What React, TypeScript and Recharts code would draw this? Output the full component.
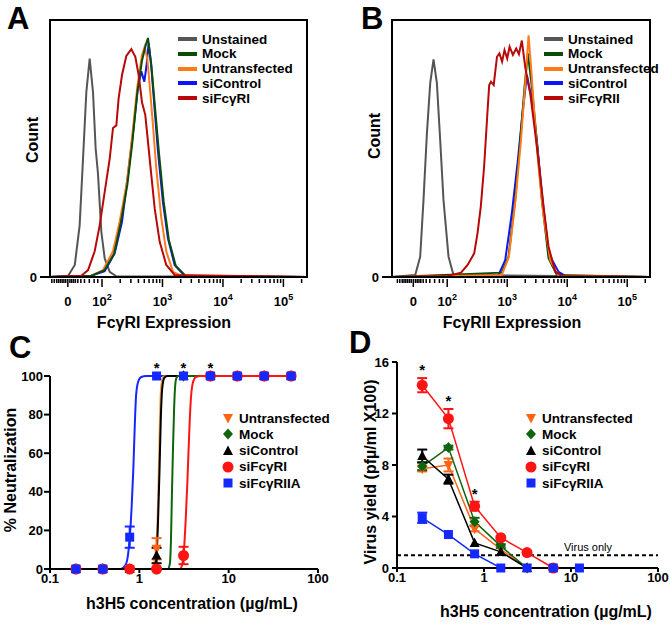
import React from "react";
import {
  LineChart,
  ComposedChart,
  Line,
  Scatter,
  XAxis,
  YAxis,
  ErrorBar,
  ReferenceArea,
  ReferenceLine,
  Label,
} from "recharts";

const FONT = "'Liberation Sans', Arial, Helvetica, sans-serif";

// ---------- A / B : flow cytometry histograms ----------
// x is in display decades (2 = 10^2, 3 = 10^3 ...), y is count as % of frame height
const histLabels = [
  { pos: 1.435, base: "0", exp: "" },
  { pos: 2, base: "10", exp: "2" },
  { pos: 3, base: "10", exp: "3" },
  { pos: 4, base: "10", exp: "4" },
  { pos: 5, base: "10", exp: "5" },
];
const histLowTicks = [1.17, 1.21, 1.25, 1.28, 1.31, 1.34, 1.37, 1.4, 1.47, 1.5, 1.53, 1.56, 1.6, 1.65, 1.71, 1.79, 1.87, 1.93];
const histMinorMult = [2, 3, 4, 5, 6, 7, 8, 9];
const histTicks = [
  ...histLowTicks,
  ...histLabels.map((l) => l.pos),
  ...[2, 3, 4].flatMap((d) => histMinorMult.map((k) => d + Math.log10(k))),
  5 + Math.log10(2),
];

const unstainedA = [[1.14, 0], [1.44, 0.5], [1.55, 4.7], [1.63, 20], [1.686, 46], [1.741, 72], [1.796, 85], [1.851, 72], [1.895, 50], [1.934, 40], [1.989, 17.6], [2.044, 7.3], [2.127, 2], [2.237, 0.3], [5.39, 0]];
const siControlA = [[1.14, 0], [1.824, 0.5], [2.044, 2.3], [2.209, 9.2], [2.331, 21.5], [2.43, 40], [2.512, 56], [2.595, 74], [2.65, 80], [2.7, 76], [2.735, 82], [2.771, 91], [2.815, 82], [2.871, 65], [2.926, 48.8], [3.008, 29], [3.091, 15], [3.201, 4.7], [3.366, 0.5], [5.39, 0]];
const untransA = [[1.14, 0], [1.824, 0.5], [2.017, 2.7], [2.182, 10], [2.292, 21.5], [2.413, 37], [2.496, 54], [2.584, 74], [2.661, 86.4], [2.705, 89.6], [2.749, 85], [2.788, 74.7], [2.843, 59], [2.898, 42.3], [2.981, 22.8], [3.063, 9.9], [3.174, 2], [3.311, 0.5], [5.39, 0]];
const mockA = [[1.14, 0], [1.824, 0.5], [2.044, 2.7], [2.2, 9], [2.31, 21], [2.42, 36], [2.5, 52], [2.585, 72], [2.66, 84], [2.72, 90], [2.76, 93], [2.815, 82.5], [2.88, 65], [2.94, 48.8], [3.02, 29.3], [3.105, 14.5], [3.22, 4.3], [3.38, 0.5], [5.39, 0]];
const siFcgRIA = [[1.14, 0], [1.658, 0.5], [1.769, 2.7], [1.879, 10], [1.961, 20], [2.044, 33], [2.127, 46], [2.182, 58], [2.237, 59], [2.275, 69.5], [2.331, 78.6], [2.402, 86], [2.485, 88.7], [2.551, 85.7], [2.606, 78.6], [2.661, 68], [2.716, 63], [2.76, 52.7], [2.815, 39.7], [2.871, 26.7], [2.954, 13.7], [3.063, 4.7], [3.201, 0.8], [5.39, 0]];

const unstainedB = [[1.08, 0], [1.467, 0.8], [1.55, 7.9], [1.605, 30], [1.662, 56], [1.717, 75.4], [1.772, 84.7], [1.828, 75.4], [1.883, 53.3], [1.938, 30], [2.022, 7.9], [2.105, 0.8], [5.38, 0]];
const siControlB = [[1.08, 0], [2.856, 0.8], [2.967, 6.6], [3.078, 24.9], [3.178, 45.5], [3.256, 63.8], [3.328, 78.6], [3.411, 69], [3.494, 53], [3.578, 32.5], [3.689, 9.2], [3.856, 2], [3.967, 0.4], [5.38, 0]];
const untransB = [[1.08, 0], [2.911, 0.8], [3.028, 7.9], [3.139, 30], [3.228, 53], [3.3, 75], [3.356, 94], [3.4, 81], [3.456, 62], [3.522, 43], [3.606, 23.6], [3.717, 6.6], [3.856, 0.4], [5.38, 0]];
const mockB = [[1.08, 0], [2.911, 1.7], [3.022, 7.9], [3.133, 30], [3.217, 53], [3.289, 74], [3.344, 87], [3.411, 74], [3.494, 53], [3.578, 30], [3.689, 7.3], [3.828, 0.8], [5.38, 0]];
const siFcgRIIB = [[1.08, 0], [2.01, 0.4], [2.23, 1.7], [2.34, 4.7], [2.45, 9.2], [2.505, 17], [2.56, 27.4], [2.615, 42.9], [2.67, 63.7], [2.7, 74.7], [2.73, 76], [2.775, 74.7], [2.83, 85.7], [2.87, 87], [2.915, 83.8], [2.955, 88.3], [3.0, 85], [3.04, 89.6], [3.095, 86.4], [3.15, 88.9], [3.195, 86.7], [3.244, 92], [3.3, 81.8], [3.344, 76], [3.383, 71.5], [3.467, 56], [3.533, 43], [3.606, 27.4], [3.689, 11.8], [3.8, 2.1], [3.911, 0.4], [5.38, 0]];

const GRAY = "#555555";
const DKGREEN = "#0a4d0a";
const ORANGE = "#ff7a1a";
const BLUE = "#0a14ff";
const DKRED = "#b80808";

const histSeriesA = [
  { name: "Unstained", color: GRAY, pts: unstainedA },
  { name: "siControl", color: BLUE, pts: siControlA },
  { name: "Untransfected", color: ORANGE, pts: untransA },
  { name: "Mock", color: DKGREEN, pts: mockA },
  { name: "siFcγRI", color: DKRED, pts: siFcgRIA },
];
const histSeriesB = [
  { name: "Unstained", color: GRAY, pts: unstainedB },
  { name: "siControl", color: BLUE, pts: siControlB },
  { name: "Mock", color: DKGREEN, pts: mockB },
  { name: "Untransfected", color: ORANGE, pts: untransB },
  { name: "siFcγRII", color: DKRED, pts: siFcgRIIB },
];
const histLegendOrder = ["Unstained", "Mock", "Untransfected", "siControl"];

// ---------- C : neutralization ----------
const concC = [0.195, 0.39, 0.78, 1.56, 3.125, 6.25, 12.5, 25, 50];
const untransC = [0, 0, 0, 10.5, 100, 100, 100, 100, 100];
const untransCErr = [0, 0, 0, 5.5, 0, 0, 0, 0, 0];
const mockC = [0, 0, 0, 0, 100, 100, 100, 100, 100];
const siControlC = [0, 0, 0, 7, 100, 100, 100, 100, 100];
const siControlCErr = [0, 0, 0, 4, 0, 0, 0, 0, 0];
const siFcgRIC = [0, 0, 0, 0, 7, 100, 100, 100, 100];
const siFcgRICErr = [0, 0, 0, 0, 4.5, 0, 0, 0, 0];
const siFcgRIIAC = [0, 0, 16.5, 100, 100, 100, 100, 100, 100];
const siFcgRIIACErr = [0, 0, 5.5, 0, 0, 0, 0, 0, 0];
const starsC = [1.56, 3.125, 6.25];

// fitted curves as (x, %) points
const curveBlueC = [[0.195, 0], [0.62, 0], [0.7, 2], [0.75, 8], [0.78, 16], [0.82, 32], [0.857, 52], [0.89, 75], [0.92, 90], [0.97, 97], [1.05, 99.5], [1.2, 100], [50, 100]];
const curveOrangeC = [[0.195, 0], [1.35, 0], [1.45, 2], [1.5, 6], [1.56, 13], [1.61, 30], [1.66, 55], [1.71, 82], [1.76, 95], [1.85, 99.5], [2.0, 100], [50, 100]];
const curveBlackC = [[0.195, 0], [1.42, 0], [1.5, 2], [1.56, 7], [1.62, 25], [1.68, 50], [1.74, 78], [1.8, 93], [1.9, 99], [2.05, 100], [50, 100]];
const curveGreenC = [[0.195, 0], [2.1, 0], [2.2, 3], [2.26, 15], [2.31, 36], [2.38, 62], [2.45, 83], [2.52, 95], [2.6, 99], [2.75, 100], [50, 100]];
const curveRedC = [[0.195, 0], [2.85, 0], [3.0, 2], [3.125, 7], [3.3, 25], [3.45, 45], [3.6, 68], [3.75, 86], [3.95, 96], [4.3, 99.5], [4.8, 100], [50, 100]];

// ---------- D : virus yield ----------
const concD = [0.195, 0.39, 0.78, 1.56, 3.125, 6.25, 12.5];
const untransD = [7.7, 8.0, 3.05, 1.45, 0];
const untransDErr = [0.2, 0.5, 0.2, 0, 0];
const mockD = [7.9, 9.35, 3.6, 1.7, 0];
const mockDErr = [0.3, 0.15, 0.3, 0.15, 0];
const siControlD = [8.7, 6.9, 1.95, 1.25, 0];
const siControlDErr = [0.5, 0.35, 0, 0, 0];
const siFcgRID = [14.2, 11.6, 4.8, 2.35, 1.2, 0];
const siFcgRIDErr = [0.55, 0.75, 0.35, 0, 0, 0];
const siFcgRIIAD = [3.9, 2.6, 1.1, 0, 0, 0, 0];
const siFcgRIIADErr = [0.4, 0, 0, 0, 0, 0, 0];
const starsD = [0.195, 0.39, 0.78];
const virusOnly = 1;

const ORANGE_C = "#ff6414";
const ORANGE_LINE_C = "#f0a048";
const GREEN_C = "#0e650e";
const RED_C = "#ff1414";
const BLUE_C = "#1428ff";

const logTicks = [0.1, 1, 10, 100];

const toPts = (arr: number[][]) => arr.map(([x, y]) => ({ x, y }));
const toSeries = (xs: number[], ys: number[], errs?: number[]) =>
  ys.map((y, i) => ({ x: xs[i], y, err: errs && errs[i] ? errs[i] : undefined }));

function Marker({ kind, cx, cy, color }: any) {
  if (cx == null || cy == null) return null;
  if (kind === "circle") return <circle cx={cx} cy={cy} r={5.5} fill={color} />;
  if (kind === "square") return <rect x={cx - 4.5} y={cy - 4.5} width={9} height={9} fill={color} />;
  if (kind === "diamond")
    return <polygon points={`${cx},${cy - 5.5} ${cx + 5},${cy} ${cx},${cy + 5.5} ${cx - 5},${cy}`} fill={color} />;
  if (kind === "up")
    return <polygon points={`${cx},${cy - 5.5} ${cx + 5},${cy + 4} ${cx - 5},${cy + 4}`} fill={color} />;
  return <polygon points={`${cx},${cy + 5.5} ${cx + 5},${cy - 4} ${cx - 5},${cy - 4}`} fill={color} />;
}

function HistTick(props: any) {
  const { x, y, payload } = props;
  const v = payload.value;
  const lab = histLabels.find((l) => Math.abs(l.pos - v) < 1e-6);
  return (
    <g>
      <line x1={x} x2={x} y1={y} y2={y + (lab ? 8 : 4)} stroke="#000" strokeWidth={1.5} />
      {lab && (
        <text x={x} y={y + 27} textAnchor="middle" fontSize={13} fontWeight={700} fontFamily={FONT} fill="#000">
          {lab.base}
          {lab.exp && (
            <tspan dy={-6} fontSize={9}>
              {lab.exp}
            </tspan>
          )}
        </text>
      )}
    </g>
  );
}

function HistPanel({ left, marginLeft, marginRight, domain, series }: any) {
  return (
    <div style={{ position: "absolute", left, top: 0 }}>
      <LineChart width={335} height={310} margin={{ top: 20, right: marginRight, bottom: 3, left: marginLeft }}>
        <XAxis
          type="number"
          dataKey="x"
          domain={domain}
          ticks={histTicks}
          interval={0}
          tick={<HistTick />}
          tickSize={0}
          tickLine={false}
          axisLine={{ stroke: "#000", strokeWidth: 2 }}
          height={30}
        />
        <YAxis
          type="number"
          domain={[0, 100]}
          ticks={[0]}
          width={35}
          tickSize={10}
          tickMargin={3}
          tick={{ fontSize: 13, fontWeight: 700, fill: "#000", fontFamily: FONT }}
          tickLine={{ stroke: "#000", strokeWidth: 2 }}
          axisLine={{ stroke: "#000", strokeWidth: 2 }}
        />
        <ReferenceArea x1={domain[0]} x2={domain[1]} y1={0} y2={100} fill="none" stroke="#000" strokeWidth={2} />
        {series.map((s: any) => (
          <Line
            key={s.name}
            data={toPts(s.pts)}
            dataKey="y"
            type="linear"
            stroke={s.color}
            strokeWidth={2}
            dot={false}
            isAnimationActive={false}
          />
        ))}
      </LineChart>
    </div>
  );
}

function LineLegend({ left, top, items }: any) {
  return (
    <div style={{ position: "absolute", left, top }}>
      {items.map((it: any, i: number) => (
        <div
          key={it.name}
          style={{ position: "absolute", left: 0, top: i * 14.75 - 8, height: 16, display: "flex", alignItems: "center", whiteSpace: "nowrap" }}
        >
          <div style={{ width: 19, height: 4, background: it.color, marginRight: 5 }} />
          <span style={{ fontSize: 13.5, fontWeight: 700, fontFamily: FONT, color: "#000" }}>{it.name}</span>
        </div>
      ))}
    </div>
  );
}

function MarkerLegend({ left, top, items }: any) {
  return (
    <div style={{ position: "absolute", left, top }}>
      {items.map((it: any, i: number) => (
        <div
          key={it.name}
          style={{ position: "absolute", left: 0, top: i * 16.3 - 8, height: 16, display: "flex", alignItems: "center", whiteSpace: "nowrap" }}
        >
          <svg width={14} height={14} style={{ marginRight: 4 }}>
            <Marker kind={it.kind} cx={7} cy={7} color={it.color} />
          </svg>
          <span style={{ fontSize: 13.5, fontWeight: 700, fontFamily: FONT, color: "#000" }}>{it.name}</span>
        </div>
      ))}
    </div>
  );
}

const markerLegendItems = [
  { name: "Untransfected", kind: "down", color: ORANGE_C },
  { name: "Mock", kind: "diamond", color: GREEN_C },
  { name: "siControl", kind: "up", color: "#000" },
  { name: "siFcγRI", kind: "circle", color: RED_C },
  { name: "siFcγRIIA", kind: "square", color: BLUE_C },
];

const tickStyle = { fontSize: 13, fontWeight: 700, fill: "#000", fontFamily: FONT };
const axisStroke = { stroke: "#000", strokeWidth: 2 };

function StarShape(props: any) {
  return (
    <text x={props.cx} y={props.cy - 3} textAnchor="middle" fontSize={15} fontWeight={700} fontFamily={FONT} fill="#000">
      *
    </text>
  );
}

function PanelC() {
  const scatterSeries = [
    { name: "Untransfected", kind: "down", color: ORANGE_C, ys: untransC, errs: untransCErr },
    { name: "Mock", kind: "diamond", color: GREEN_C, ys: mockC, errs: undefined },
    { name: "siControl", kind: "up", color: "#000", ys: siControlC, errs: siControlCErr },
    { name: "siFcγRI", kind: "circle", color: RED_C, ys: siFcgRIC, errs: siFcgRICErr },
    { name: "siFcγRIIA", kind: "square", color: BLUE_C, ys: siFcgRIIAC, errs: siFcgRIIACErr },
  ];
  const curves = [
    { name: "fitBlue", color: BLUE_C, pts: curveBlueC },
    { name: "fitOrange", color: ORANGE_LINE_C, pts: curveOrangeC },
    { name: "fitBlack", color: "#000", pts: curveBlackC },
    { name: "fitGreen", color: GREEN_C, pts: curveGreenC },
    { name: "fitRed", color: RED_C, pts: curveRedC },
  ];
  return (
    <div style={{ position: "absolute", left: 0, top: 300 }}>
      <ComposedChart width={335} height={325} margin={{ top: 76, right: 17, bottom: 6, left: 0 }}>
        <XAxis
          type="number"
          dataKey="x"
          scale="log"
          domain={[0.1, 100]}
          ticks={logTicks}
          interval={0}
          tickFormatter={(v: number) => String(v)}
          tick={tickStyle}
          tickSize={4}
          tickMargin={1}
          tickLine={axisStroke}
          axisLine={axisStroke}
          height={50}
        />
        <YAxis
          type="number"
          domain={[0, 100]}
          ticks={[0, 20, 40, 60, 80, 100]}
          width={50}
          tick={tickStyle}
          tickSize={6}
          tickMargin={1}
          tickLine={axisStroke}
          axisLine={axisStroke}
        />
        {curves.map((c) => (
          <Line
            key={c.name}
            data={toPts(c.pts)}
            dataKey="y"
            type="monotone"
            stroke={c.color}
            strokeWidth={2}
            dot={false}
            isAnimationActive={false}
          />
        ))}
        {scatterSeries.map((s) => (
          <Scatter
            key={s.name}
            data={toSeries(concC, s.ys, s.errs)}
            dataKey="y"
            isAnimationActive={false}
            shape={(p: any) => <Marker kind={s.kind} cx={p.cx} cy={p.cy} color={s.color} />}
          >
            <ErrorBar dataKey="err" direction="y" width={5} stroke={s.color} strokeWidth={2} isAnimationActive={false} />
          </Scatter>
        ))}
        <Scatter
          data={starsC.map((x) => ({ x, y: siFcgRIIAC[concC.indexOf(x)] }))}
          dataKey="y"
          isAnimationActive={false}
          shape={<StarShape />}
        />
      </ComposedChart>
    </div>
  );
}

function PanelD() {
  const series = [
    { name: "Untransfected", kind: "down", color: ORANGE_C, ys: untransD, errs: untransDErr },
    { name: "Mock", kind: "diamond", color: GREEN_C, ys: mockD, errs: mockDErr },
    { name: "siControl", kind: "up", color: "#000", ys: siControlD, errs: siControlDErr },
    { name: "siFcγRI", kind: "circle", color: RED_C, ys: siFcgRID, errs: siFcgRIDErr },
    { name: "siFcγRIIA", kind: "square", color: BLUE_C, ys: siFcgRIIAD, errs: siFcgRIIADErr },
  ];
  return (
    <div style={{ position: "absolute", left: 335, top: 300 }}>
      <ComposedChart width={335} height={325} margin={{ top: 62, right: 12, bottom: 7, left: 17 }}>
        <XAxis
          type="number"
          dataKey="x"
          scale="log"
          domain={[0.1, 100]}
          ticks={logTicks}
          interval={0}
          tickFormatter={(v: number) => String(v)}
          tick={tickStyle}
          tickSize={4}
          tickMargin={1}
          tickLine={axisStroke}
          axisLine={axisStroke}
          height={50}
        />
        <YAxis
          type="number"
          domain={[0, 16]}
          ticks={[0, 4, 8, 12, 16]}
          width={45}
          tick={tickStyle}
          tickSize={5}
          tickMargin={3}
          tickLine={axisStroke}
          axisLine={axisStroke}
        />
        <ReferenceLine
          y={virusOnly}
          stroke="#000"
          strokeWidth={2}
          strokeDasharray="4 3"
          label={
            <Label
              content={(p: any) => {
                const vb = p.viewBox;
                return (
                  <text x={vb.x + vb.width - 46} y={vb.y - 4} textAnchor="end" fontSize={11} fontFamily={FONT} fill="#000">
                    Virus only
                  </text>
                );
              }}
            />
          }
        />
        {series.map((s) => (
          <Line
            key={s.name}
            data={toSeries(concD, s.ys, s.errs)}
            dataKey="y"
            type="linear"
            stroke={s.color}
            strokeWidth={1.5}
            isAnimationActive={false}
            dot={(p: any) => <Marker key={`${s.name}-${p.index}`} kind={s.kind} cx={p.cx} cy={p.cy} color={s.color} />}
          >
            <ErrorBar dataKey="err" direction="y" width={5} stroke={s.color} strokeWidth={2} isAnimationActive={false} />
          </Line>
        ))}
        <Scatter
          data={starsD.map((x) => {
            const i = concD.indexOf(x);
            return { x, y: siFcgRID[i] + siFcgRIDErr[i] };
          })}
          dataKey="y"
          isAnimationActive={false}
          shape={<StarShape />}
        />
      </ComposedChart>
    </div>
  );
}

// axis titles and panel letters, in page pixels
const titles = [
  { text: "FcγRI Expression", x: 164, y: 328, rot: false },
  { text: "FcγRII Expression", x: 512, y: 328, rot: false },
  { text: "h3H5 concentration (µg/mL)", x: 192, y: 609, rot: false },
  { text: "h3H5 concentration (µg/mL)", x: 546, y: 617, rot: false },
  { text: "Count", x: 38, y: 140, rot: true },
  { text: "Count", x: 380, y: 136, rot: true },
  { text: "% Neutralization", x: 16, y: 470, rot: true },
  { text: "Virus yield (pfµ/ml X100)", x: 376, y: 472, rot: true },
];
const panelLetters = [
  { text: "A", x: 7, y: 29 },
  { text: "B", x: 361, y: 29 },
  { text: "C", x: 9, y: 358 },
  { text: "D", x: 349, y: 353 },
];

export default function App() {
  const legendA = histLegendOrder
    .map((n) => histSeriesA.find((s) => s.name === n))
    .concat([histSeriesA[4]]);
  const legendB = histLegendOrder
    .map((n) => histSeriesB.find((s) => s.name === n))
    .concat([histSeriesB[4]]);

  return (
    <div style={{ position: "absolute", left: 0, top: 0, width: 670, height: 625, background: "#fff", overflow: "hidden" }}>
      <HistPanel left={0} marginLeft={15} marginRight={28} domain={[1.14, 5.39]} series={histSeriesA} />
      <HistPanel left={335} marginLeft={22} marginRight={20} domain={[1.08, 5.38]} series={histSeriesB} />
      <PanelC />
      <PanelD />
      <LineLegend left={178} top={39} items={legendA} />
      <LineLegend left={544} top={39} items={legendB} />
      <MarkerLegend left={221} top={418} items={markerLegendItems} />
      <MarkerLegend left={524} top={418} items={markerLegendItems} />
      <svg width={670} height={625} style={{ position: "absolute", left: 0, top: 0, pointerEvents: "none" }}>
        <g fontFamily={FONT} fontWeight={700} fontSize={16} fill="#000">
          {titles.map((t, i) => (
            <text
              key={i}
              x={t.x}
              y={t.y}
              textAnchor="middle"
              transform={t.rot ? `rotate(-90, ${t.x}, ${t.y})` : undefined}
            >
              {t.text}
            </text>
          ))}
        </g>
        <g fontFamily={FONT} fontWeight={700} fontSize={31} fill="#000">
          {panelLetters.map((l) => (
            <text key={l.text} x={l.x} y={l.y}>
              {l.text}
            </text>
          ))}
        </g>
      </svg>
    </div>
  );
}
